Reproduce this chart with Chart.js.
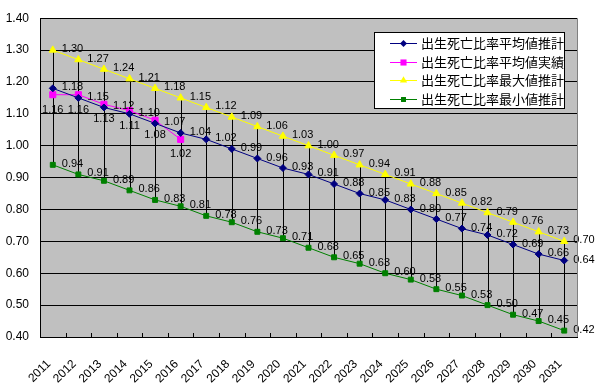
<!DOCTYPE html>
<html>
<head>
<meta charset="utf-8">
<script src="https://cdn.jsdelivr.net/npm/chart.js@4/dist/chart.umd.min.js"></script>
<style>
  body { margin: 0; background: #fff; }
  #wrap { width: 599px; height: 386px; }
</style>
</head>
<body>
<div id="wrap"><canvas id="grafico" width="599" height="386"></canvas></div>
<script>
const anos = ['2011','2012','2013','2014','2015','2016','2017','2018','2019','2020','2021',
  '2022','2023','2024','2025','2026','2027','2028','2029','2030','2031'];

const mediaEstimada = [1.18,1.15,1.12,1.10,1.07,1.04,1.02,0.99,0.96,0.93,0.91,
  0.88,0.85,0.83,0.80,0.77,0.74,0.72,0.69,0.66,0.64];
const mediaReal = [1.16,1.16,1.13,1.11,1.08,1.02];
const maximoEstimado = [1.30,1.27,1.24,1.21,1.18,1.15,1.12,1.09,1.06,1.03,1.00,
  0.97,0.94,0.91,0.88,0.85,0.82,0.79,0.76,0.73,0.70];
const minimoEstimado = [0.94,0.91,0.89,0.86,0.83,0.81,0.78,0.76,0.73,0.71,0.68,
  0.65,0.63,0.60,0.58,0.55,0.53,0.50,0.47,0.45,0.42];

const nomes = ['出生死亡比率平均値推計','出生死亡比率平均値実績','出生死亡比率最大値推計','出生死亡比率最小値推計'];

const fonteNum = 'Liberation Sans, Arial, sans-serif';

function marcador(ctx, estilo, r, x, y, cor) {
  ctx.save();
  ctx.fillStyle = cor;
  ctx.beginPath();
  if (estilo === 'rectRot') {
    ctx.moveTo(x, y - r); ctx.lineTo(x + r, y); ctx.lineTo(x, y + r); ctx.lineTo(x - r, y);
  } else if (estilo === 'triangle') {
    ctx.moveTo(x, y - r); ctx.lineTo(x + r * 0.87, y + r * 0.5); ctx.lineTo(x - r * 0.87, y + r * 0.5);
  } else {
    const s = r * 0.71;
    ctx.rect(x - s, y - s, s * 2, s * 2);
  }
  ctx.closePath();
  ctx.fill();
  ctx.restore();
}

const fundoPlugin = {
  id: 'fundo',
  beforeDraw(chart) {
    const { ctx, chartArea: a } = chart;
    ctx.save();
    ctx.fillStyle = '#C0C0C0';
    ctx.fillRect(a.left, a.top, a.right - a.left, a.bottom - a.top);
    ctx.restore();
  },
  afterDraw(chart) {
    const { ctx, chartArea: a } = chart;
    ctx.save();
    // borda direita
    ctx.strokeStyle = '#808080';
    ctx.lineWidth = 1;
    ctx.beginPath();
    ctx.moveTo(Math.round(a.right) + 0.5, a.top);
    ctx.lineTo(Math.round(a.right) + 0.5, a.bottom);
    ctx.stroke();
    // marcas internas do eixo x
    ctx.strokeStyle = '#000';
    const passo = (a.right - a.left) / anos.length;
    ctx.beginPath();
    for (let i = 1; i < anos.length; i++) {
      const px = Math.round(a.left + i * passo) + 0.5;
      ctx.moveTo(px, a.bottom);
      ctx.lineTo(px, a.bottom - 4);
    }
    ctx.stroke();
    ctx.restore();
  }
};

// linhas de máximo a mínimo
const altaBaixaPlugin = {
  id: 'altaBaixa',
  beforeDatasetsDraw(chart) {
    const ctx = chart.ctx;
    const x = chart.scales.x, y = chart.scales.y;
    ctx.save();
    ctx.strokeStyle = '#000';
    ctx.lineWidth = 1;
    ctx.beginPath();
    anos.forEach((ano, i) => {
      const px = Math.round(x.getPixelForValue(i)) + 0.5;
      ctx.moveTo(px, y.getPixelForValue(maximoEstimado[i]));
      ctx.lineTo(px, y.getPixelForValue(minimoEstimado[i]));
    });
    ctx.stroke();
    ctx.restore();
  }
};

const rotulosPlugin = {
  id: 'rotulos',
  afterDatasetsDraw(chart) {
    const ctx = chart.ctx;
    ctx.save();
    ctx.font = '11px ' + fonteNum;
    ctx.fillStyle = '#000';
    chart.data.datasets.forEach((ds, i) => {
      const meta = chart.getDatasetMeta(i);
      meta.data.forEach((p, j) => {
        const txt = ds.data[j].toFixed(2);
        ctx.textBaseline = 'middle';
        if (ds.posRotulo === 'abaixo') {
          ctx.textAlign = 'center';
          ctx.fillText(txt, p.x, p.y + 15);
        } else {
          ctx.textAlign = 'left';
          ctx.fillText(txt, p.x + 9, p.y - 1);
        }
      });
    });
    ctx.restore();
  }
};

const legendaPlugin = {
  id: 'legendaBox',
  afterDraw(chart) {
    const ctx = chart.ctx;
    ctx.save();
    ctx.fillStyle = '#fff';
    ctx.fillRect(374, 32, 190, 76);
    ctx.strokeStyle = '#000';
    ctx.lineWidth = 1;
    ctx.strokeRect(374.5, 32.5, 190, 76);
    ctx.font = '13px "Noto Sans CJK JP", sans-serif';
    ctx.textAlign = 'left';
    ctx.textBaseline = 'middle';
    chart.data.datasets.forEach((ds, i) => {
      const y = Math.round(43 + i * 18.7) + 0.5;
      ctx.strokeStyle = ds.borderColor;
      ctx.beginPath();
      ctx.moveTo(390, y);
      ctx.lineTo(417, y);
      ctx.stroke();
      marcador(ctx, ds.pointStyle, ds.pointRadius, 403.5, y, ds.pointBackgroundColor);
      ctx.fillStyle = '#000';
      ctx.fillText(ds.label, 421, y);
    });
    ctx.restore();
  }
};

new Chart(document.getElementById('grafico'), {
  type: 'line',
  data: {
    labels: anos,
    datasets: [
      {
        label: nomes[0], data: mediaEstimada,
        borderColor: '#000080', borderWidth: 1, pointStyle: 'rectRot', pointRadius: 3.5,
        pointBackgroundColor: '#000080', pointBorderColor: '#000080', pointBorderWidth: 1,
        posRotulo: 'direita'
      },
      {
        label: nomes[1], data: mediaReal,
        borderColor: '#FF00FF', borderWidth: 1, pointStyle: 'rect', pointRadius: 4.3,
        pointBackgroundColor: '#FF00FF', pointBorderColor: '#FF00FF', pointBorderWidth: 1,
        posRotulo: 'abaixo'
      },
      {
        label: nomes[2], data: maximoEstimado,
        borderColor: '#FFFF00', borderWidth: 1, pointStyle: 'triangle', pointRadius: 4.2,
        pointBackgroundColor: '#FFFF00', pointBorderColor: '#FFFF00', pointBorderWidth: 1,
        posRotulo: 'direita'
      },
      {
        label: nomes[3], data: minimoEstimado,
        borderColor: '#008000', borderWidth: 1, pointStyle: 'rect', pointRadius: 3.5,
        pointBackgroundColor: '#008000', pointBorderColor: '#008000', pointBorderWidth: 1,
        posRotulo: 'direita'
      }
    ]
  },
  options: {
    responsive: false,
    animation: false,
    layout: { padding: { top: 16, right: 22, left: 0, bottom: 0 } },
    plugins: {
      legend: { display: false },
      tooltip: { enabled: false }
    },
    scales: {
      x: {
        offset: true,
        grid: { display: false },
        border: { display: true, color: '#000', width: 1 },
        ticks: {
          color: '#000', font: { size: 12, family: fonteNum },
          maxRotation: 45, minRotation: 45, padding: 12, autoSkip: false,
          labelOffset: -4
        },
        afterFit(s) { s.height = 49; }
      },
      y: {
        min: 0.4, max: 1.4,
        grid: { color: '#000', lineWidth: 1, drawTicks: false },
        border: { display: true, color: '#000', width: 1 },
        ticks: {
          stepSize: 0.1, color: '#000', padding: 11,
          font: { size: 12, family: fonteNum },
          callback: v => v.toFixed(2)
        },
        afterFit(s) { s.width = 40; }
      }
    }
  },
  plugins: [fundoPlugin, altaBaixaPlugin, rotulosPlugin, legendaPlugin]
});
</script>
</body>
</html>
